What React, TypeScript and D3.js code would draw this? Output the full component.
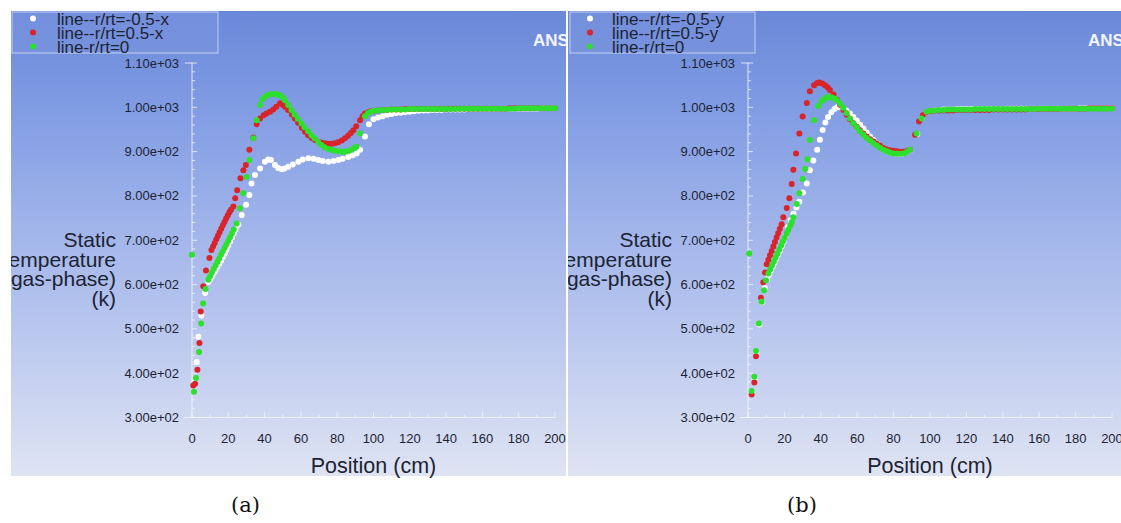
import React from "react";
import * as d3 from "d3";

// x ticks (cm) and y ticks (K)
const xTickValues = [0, 20, 40, 60, 80, 100, 120, 140, 160, 180, 200];
const yTickValues = [300, 400, 500, 600, 700, 800, 900, 1000, 1100];
const yTitleLines = ["Static", "Temperature", "(gas-phase)", "(k)"];
const legendA = ["line--r/rt=-0.5-x", "line--r/rt=0.5-x", "line-r/rt=0"];
const legendB = ["line--r/rt=-0.5-y", "line--r/rt=0.5-y", "line-r/rt=0"];
const seriesColors = ["#ffffff", "#d8242a", "#2ee02e"];

type Pt = [number, number];

// panel (a) : x direction
const whiteA: Pt[] = [
  [1.5, 380], [2.6, 425], [3.5, 482], [5.2, 530], [7.2, 581], [9, 606], [10, 612], [11, 619],
  [12, 626], [13, 633], [14, 640], [15, 647], [16, 654], [17, 662], [18, 670], [19, 679],
  [20, 688], [21, 697], [22, 706], [23, 715], [24, 724], [25.5, 735], [27.4, 757], [29.8, 780],
  [31.6, 802], [32.8, 828], [34.7, 847], [37.5, 862], [40.2, 877], [42, 882], [43.5, 881],
  [45.7, 870], [47.5, 863], [49.4, 860], [51, 862], [53, 866], [55.5, 871], [58.6, 877],
  [61, 882], [64.1, 885], [67, 884], [69.6, 881], [72, 879], [75.1, 877], [78, 879], [80.6, 881],
  [83, 884], [86.1, 888], [88.5, 892], [90.7, 896], [92.6, 904], [95.3, 934], [97.5, 962],
  [100, 973], [102.5, 977], [105, 980], [107.5, 983], [110, 985], [112.5, 987], [115, 988],
  [117.5, 989], [120, 990], [122.5, 991], [125, 992], [127.5, 993], [130, 993], [132.5, 994],
  [135, 994], [137.5, 994], [140, 995], [142.5, 995], [145, 995], [147.5, 995], [150, 995],
  [152.5, 996], [155, 996], [157.5, 996], [160, 996], [162.5, 996], [165, 996], [167.5, 996],
  [170, 997], [172.5, 997], [175, 997], [177.5, 997], [180, 997], [182.5, 997], [185, 997],
  [187.5, 997], [190, 997], [192.5, 998], [195, 998], [197.5, 998], [200, 998],
];
const redA: Pt[] = [
  [0.7, 372], [1.7, 376], [3.0, 408], [4.1, 468], [4.8, 539], [6.2, 596], [7.7, 632], [9.6, 660],
  [10.7, 678], [11.6, 686], [12.5, 694], [13.4, 702], [14.3, 710], [15.2, 718], [16.1, 726],
  [17.0, 734], [17.9, 741], [18.8, 749], [19.7, 756], [20.6, 763], [21.5, 769], [22.8, 776],
  [23.8, 795], [24.9, 813], [26.7, 840], [28.3, 858], [29.7, 870], [31.6, 904], [33.8, 932],
  [35.6, 962], [37.5, 975], [39.5, 982], [41, 986], [43, 990], [44.8, 995], [46.5, 1001],
  [48.5, 1009], [50, 1006], [51.2, 1001], [53, 994], [55, 984], [56.7, 975], [58.5, 965],
  [60.5, 954], [62.3, 945], [64, 937], [66, 931], [67.8, 926], [70, 922], [71.5, 920],
  [73.3, 919], [75, 918], [77, 918], [78.8, 919], [80.5, 921], [82.5, 925], [84.3, 930],
  [86, 936], [87.5, 942], [88.9, 948], [90.5, 957], [92.6, 971], [94, 980], [95.3, 986],
  [97, 989], [98.5, 991], [100, 992], [102.5, 993], [105, 994], [107.5, 994], [110, 995],
  [112.5, 995], [115, 995], [117.5, 996], [120, 996], [122.5, 996], [125, 996], [127.5, 996],
  [130, 996], [132.5, 996], [135, 996], [137.5, 996], [140, 996], [142.5, 997], [145, 997],
  [147.5, 997], [150, 997], [152.5, 997], [155, 997], [157.5, 997], [160, 997], [162.5, 997],
  [165, 997], [167.5, 997], [170, 997], [172.5, 997], [175, 998], [177.5, 998], [180, 998],
  [182.5, 998], [185, 998], [187.5, 998], [190, 998], [192.5, 998], [195, 998], [197.5, 998],
  [200, 998],
];
const greenA: Pt[] = [
  [0, 667], [1.1, 358], [2.2, 389], [3.9, 448], [5.0, 512], [6.1, 557], [7.5, 590], [9.0, 611],
  [10, 619], [11, 627], [12, 635], [13, 643], [14, 651], [15, 659], [16, 667], [17, 675],
  [18, 683], [19, 691], [20, 699], [21, 707], [22, 715], [23, 724], [24.6, 738], [26.4, 772],
  [28.3, 806], [30.1, 843], [31.6, 881], [33.8, 930], [35.6, 971], [37.5, 1005], [38.8, 1018],
  [40.2, 1024], [42, 1028], [43.8, 1030], [45.5, 1030], [47, 1029], [48.5, 1027], [50, 1022],
  [51.2, 1016], [53, 1005], [54.8, 994], [56.5, 984], [58.3, 974], [60.3, 964], [62, 955],
  [64, 946], [65.8, 937], [67.5, 930], [69.5, 922], [71.3, 915], [73, 910], [75, 906],
  [76.8, 904], [78.5, 902], [80.5, 901], [82.4, 900], [84, 900], [86, 901], [87.9, 904],
  [89.5, 908], [90.6, 911], [92.6, 941], [95.3, 980], [97, 987], [98.5, 990], [100, 992],
  [102.5, 993], [105, 994], [107.5, 994], [110, 995], [112.5, 995], [115, 995], [117.5, 995],
  [120, 996], [122.5, 996], [125, 996], [127.5, 996], [130, 996], [132.5, 996], [135, 996],
  [137.5, 996], [140, 996], [142.5, 996], [145, 996], [147.5, 997], [150, 997], [152.5, 997],
  [155, 997], [157.5, 997], [160, 997], [162.5, 997], [165, 997], [167.5, 997], [170, 997],
  [172.5, 997], [175, 997], [177.5, 997], [180, 998], [182.5, 998], [185, 998], [187.5, 998],
  [190, 998], [192.5, 998], [195, 998], [197.5, 998], [200, 998],
];

// panel (b) : y direction
const whiteB: Pt[] = [
  [2.2, 356], [3.6, 388], [4.6, 446], [6.2, 510], [7.7, 560], [9.2, 592], [10.5, 612],
  [11.5, 622], [12.5, 631], [13.5, 640], [14.5, 649], [15.5, 658], [16.5, 667], [17.5, 676],
  [18.5, 686], [19.5, 696], [20.5, 708], [22, 730], [23.5, 745], [25, 760], [26.6, 774],
  [28.2, 787], [30.2, 808], [32.3, 828], [34, 858], [35.9, 880], [38, 904], [39.5, 927],
  [41, 949], [42.5, 966], [44, 978], [45.8, 989], [47.5, 996], [49, 1000], [50.5, 1001],
  [52, 999], [54, 993], [56, 986], [57.8, 978], [59.7, 970], [61.5, 961], [63.4, 952],
  [65.2, 943], [67, 934], [69, 926], [71, 918], [73, 911], [75, 905], [77, 901], [79, 898],
  [81, 896], [83, 895], [85, 896], [87, 899], [89, 903], [93, 940], [95.5, 976], [98, 989],
  [100, 991], [102.5, 993], [105, 994], [107.5, 995], [110, 995], [112.5, 995], [115, 996],
  [117.5, 996], [120, 996], [122.5, 996], [125, 996], [127.5, 996], [130, 996], [132.5, 996],
  [135, 996], [137.5, 996], [140, 996], [142.5, 997], [145, 997], [147.5, 997], [150, 997],
  [152.5, 997], [155, 997], [157.5, 997], [160, 997], [162.5, 997], [165, 997], [167.5, 997],
  [170, 997], [172.5, 997], [175, 997], [177.5, 997], [180, 997], [182.5, 998], [185, 998],
  [187.5, 998], [190, 998], [192.5, 998], [195, 998], [197.5, 998], [200, 998],
];
const redB: Pt[] = [
  [2, 352], [3.5, 379], [4.4, 438], [7.1, 570], [8.4, 605], [9.3, 627], [10.3, 646],
  [11.2, 656], [12.1, 666], [13, 676], [13.9, 686], [14.8, 696], [15.7, 706], [16.6, 716],
  [17.5, 726], [18.5, 736], [19.4, 752], [21.3, 773], [22.7, 795], [24, 827], [24.9, 859],
  [26.4, 896], [28.2, 941], [30, 979], [32.3, 1010], [34, 1036], [36.3, 1050], [38, 1055],
  [39.2, 1056], [40.8, 1054], [42.3, 1050], [43.7, 1045], [45, 1039], [47, 1029], [48.8, 1017],
  [50.6, 1006], [52.4, 994], [54.2, 983], [56, 973], [57.9, 964], [59.7, 956], [61.5, 948],
  [63.4, 941], [65.2, 934], [67.1, 928], [69, 923], [70.8, 918], [72.6, 913], [74.4, 908],
  [76.2, 905], [78, 903], [79.9, 902], [81.7, 901], [83.5, 900], [85.4, 900], [87.2, 901],
  [89, 904], [91.8, 938], [94, 968], [96, 982], [98, 989], [100, 991], [102.5, 992],
  [105, 993], [107.5, 993], [110, 993], [112.5, 993], [115, 994], [117.5, 994], [120, 994],
  [122.5, 994], [125, 994], [127.5, 994], [130, 994], [132.5, 994], [135, 995], [137.5, 995],
  [140, 995], [142.5, 995], [145, 995], [147.5, 995], [150, 995], [152.5, 995], [155, 996],
  [157.5, 996], [160, 996], [162.5, 996], [165, 996], [167.5, 996], [170, 996], [172.5, 997],
  [175, 997], [177.5, 997], [180, 997], [182.5, 997], [185, 997], [187.5, 998], [190, 998],
  [192.5, 998], [195, 998], [197.5, 998], [200, 998],
];
const greenB: Pt[] = [
  [0.7, 670], [2, 360], [3.5, 392], [4.4, 450], [6, 512], [7.5, 561], [8.8, 587], [9.9, 610],
  [11.2, 625], [12.2, 634], [13.2, 643], [14.2, 652], [15.2, 661], [16.2, 670], [17.2, 679],
  [18.2, 688], [19.2, 697], [20.2, 706], [21.2, 715], [22.2, 724], [23.2, 733], [24, 741],
  [24.9, 752], [26.8, 782], [28.2, 806], [30, 838], [31.5, 861], [32.6, 883], [34, 926],
  [36.3, 971], [38.6, 1003], [40.5, 1014], [42, 1019], [43.2, 1022], [44.6, 1023], [46, 1022],
  [47.4, 1020], [48.8, 1016], [50.6, 1008], [52.4, 999], [54.2, 987], [56, 975], [57.9, 964],
  [59.7, 955], [61.5, 946], [63.4, 938], [65.2, 931], [67.1, 925], [69, 919], [70.8, 914],
  [72.6, 909], [74.4, 904], [76.2, 901], [78, 898], [79.9, 896], [81.7, 895], [83.5, 895],
  [85.4, 896], [87.2, 899], [89, 904], [92.7, 941], [95.4, 975], [98.1, 990], [100, 992],
  [102.5, 993], [105, 994], [107.5, 994], [110, 995], [112.5, 995], [115, 995], [117.5, 995],
  [120, 995], [122.5, 995], [125, 996], [127.5, 996], [130, 996], [132.5, 996], [135, 996],
  [137.5, 996], [140, 996], [142.5, 996], [145, 996], [147.5, 996], [150, 996], [152.5, 996],
  [155, 996], [157.5, 996], [160, 997], [162.5, 997], [165, 997], [167.5, 997], [170, 997],
  [172.5, 997], [175, 997], [177.5, 997], [180, 997], [182.5, 997], [185, 997], [187.5, 997],
  [190, 997], [192.5, 997], [195, 997], [197.5, 997], [200, 997],
];

const W = 1121,
  H = 523;
const top = 11,
  bottom = 476;
const yBottom = 417.5,
  yTop = 63;
const sans = "'Liberation Sans', Arial, sans-serif";
const ink = "#1d2333";

type PanelProps = {
  id: string;
  left: number;
  right: number;
  axisLeft: number;
  axisRight: number;
  series: Pt[][];
  legend: string[];
  legendBox: [number, number];
  legendDotX: number;
  legendTextX: number;
  caption: string;
};

function Panel(p: PanelProps) {
  const x = d3.scaleLinear().domain([0, 200]).range([p.axisLeft, p.axisRight]);
  const y = d3.scaleLinear().domain([300, 1100]).range([yBottom, yTop]);
  const minorY = d3.range(300, 1101, 20);
  const minorX = d3.range(0, 201, 10);
  const titleRight = p.axisLeft - 76;
  const mid = (p.axisLeft + p.axisRight) / 2;

  return (
    <g>
      <clipPath id={"clip-" + p.id}>
        <rect x={p.left} y={top} width={p.right - p.left} height={bottom - top} />
      </clipPath>
      <g clipPath={`url(#clip-${p.id})`}>
        <rect
          x={p.left}
          y={top}
          width={p.right - p.left}
          height={bottom - top}
          fill="url(#bg)"
        />
        {/* ANSYS logo, cut off by the frame */}
        <text
          x={p.right - 33}
          y={46}
          fontFamily={sans}
          fontWeight="bold"
          fontSize={17}
          fill="#f2f5ff"
        >
          ANSYS
        </text>

        {/* y title */}
        {yTitleLines.map((t, i) => (
          <text
            key={t}
            x={titleRight}
            y={247 + i * 19.5}
            textAnchor="end"
            fontFamily={sans}
            fontSize={21}
            fill={ink}
          >
            {t}
          </text>
        ))}
      </g>

      {/* axes */}
      <line
        x1={p.axisLeft}
        x2={p.axisLeft}
        y1={y(1100)}
        y2={y(300)}
        stroke="#f4f6ff"
        strokeOpacity={0.85}
      />
      <line
        x1={p.axisLeft - 8}
        x2={p.axisRight}
        y1={y(300)}
        y2={y(300)}
        stroke="#f4f6ff"
        strokeOpacity={0.85}
      />
      <line
        x1={p.axisLeft - 7}
        x2={p.axisLeft}
        y1={y(1100)}
        y2={y(1100)}
        stroke="#f4f6ff"
        strokeOpacity={0.85}
      />
      {minorY.map((v) => (
        <line
          key={"my" + v}
          x1={p.axisLeft}
          x2={p.axisLeft + (v % 100 === 0 ? 5 : 3)}
          y1={y(v)}
          y2={y(v)}
          stroke="#f4f6ff"
          strokeOpacity={0.8}
        />
      ))}
      {minorX.map((v) => (
        <line
          key={"mx" + v}
          x1={x(v)}
          x2={x(v)}
          y1={y(300)}
          y2={y(300) - (v % 20 === 0 ? 5 : 3)}
          stroke="#f4f6ff"
          strokeOpacity={0.8}
        />
      ))}
      {yTickValues.map((v) => (
        <text
          key={"yt" + v}
          x={p.axisLeft - 13}
          y={y(v) + 4.5}
          textAnchor="end"
          fontFamily={sans}
          fontSize={13}
          fill={ink}
        >
          {v.toExponential(2).replace("e+", "e+0")}
        </text>
      ))}
      {xTickValues.map((v) => (
        <text
          key={"xt" + v}
          x={x(v)}
          y={443}
          textAnchor="middle"
          fontFamily={sans}
          fontSize={13}
          fill={ink}
        >
          {v}
        </text>
      ))}
      <text x={mid} y={473} textAnchor="middle" fontFamily={sans} fontSize={21.5} fill={ink}>
        Position (cm)
      </text>

      {/* points */}
      <g clipPath={`url(#clip-${p.id})`}>
        {p.series.map((s, si) => (
          <g key={si} fill={seriesColors[si]}>
            {s.map(([a, b], i) => (
              <circle key={i} cx={x(a)} cy={y(b)} r={3} />
            ))}
          </g>
        ))}
      </g>

      {/* legend */}
      <rect
        x={p.legendBox[0]}
        y={12}
        width={p.legendBox[1] - p.legendBox[0]}
        height={41}
        fill="#7b96df"
        fillOpacity={0.55}
        stroke="#d6e0fa"
        strokeOpacity={0.8}
      />
      {p.legend.map((t, i) => (
        <g key={t}>
          <circle cx={p.legendDotX} cy={18.5 + i * 14} r={3} fill={seriesColors[i]} />
          <text
            x={p.legendTextX}
            y={24.5 + i * 14}
            fontFamily={sans}
            fontSize={17}
            fill={ink}
          >
            {t}
          </text>
        </g>
      ))}

      <text
        x={mid - 128}
        y={512}
        textAnchor="middle"
        fontFamily="'DejaVu Serif', 'Liberation Serif', serif"
        fontSize={21}
        fill="#111"
      >
        {p.caption}
      </text>
    </g>
  );
}

export default function App() {
  return (
    <svg
      width={W}
      height={H}
      style={{ position: "absolute", left: 0, top: 0, background: "#fff" }}
    >
      <defs>
        <linearGradient id="bg" x1="0" y1="0" x2="0" y2="1">
          <stop offset="0" stopColor="#6a88d8" />
          <stop offset="0.2" stopColor="#7f9be3" />
          <stop offset="0.45" stopColor="#9fb3ea" />
          <stop offset="0.72" stopColor="#bdcaef" />
          <stop offset="1" stopColor="#dfe4f3" />
        </linearGradient>
      </defs>
      <Panel
        id="a"
        left={11}
        right={566}
        axisLeft={192}
        axisRight={555}
        series={[whiteA, redA, greenA]}
        legend={legendA}
        legendBox={[12, 218]}
        legendDotX={33}
        legendTextX={57}
        caption="(a)"
      />
      <Panel
        id="b"
        left={568}
        right={1121}
        axisLeft={748}
        axisRight={1112}
        series={[whiteB, redB, greenB]}
        legend={legendB}
        legendBox={[570, 755]}
        legendDotX={590}
        legendTextX={612}
        caption="(b)"
      />
    </svg>
  );
}
